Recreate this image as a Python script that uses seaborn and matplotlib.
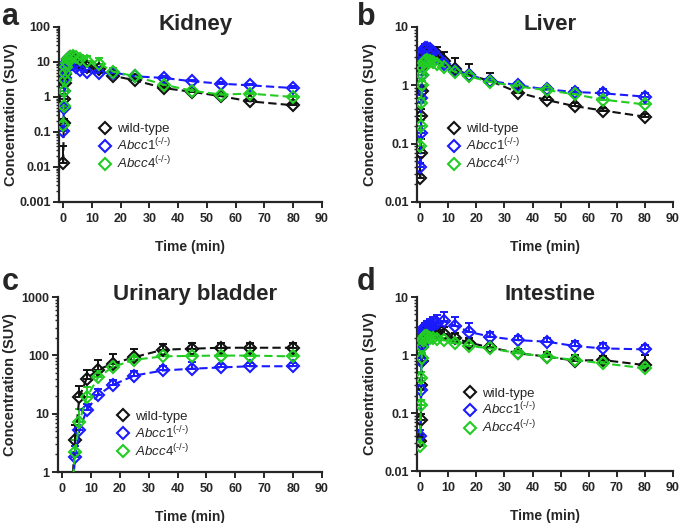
import numpy as np
import pandas as pd
import matplotlib
matplotlib.use('Agg')
import matplotlib.pyplot as plt
from matplotlib.lines import Line2D
from matplotlib.ticker import FixedLocator, FuncFormatter, LogLocator, NullFormatter
import seaborn as sns

# ── data (SUV, mean with upward SD) ─────────────────────────────────────────
GENOTYPES = ["wild-type", "Abcc1", "Abcc4"]
LABELS = ["wild-type", "$\\mathit{Abcc1}^{\\mathit{(\u2010/\u2010)}}$",
          "$\\mathit{Abcc4}^{\\mathit{(\u2010/\u2010)}}$"]
COLORS = ["#111111", "#1a1aff", "#22cc22"]

time_min = [0.08, 0.25, 0.42, 0.58, 0.75, 0.92, 1.25, 1.75, 2.5, 3.5, 4.5,
            6, 8.5, 12.5, 17.5, 25, 35, 45, 55, 65, 80]
time_bladder = [3.5, 4.5, 6, 8.5, 12.5, 17.5, 25, 35, 45, 55, 65, 80]

kidney_wt = [0.013, 0.18, 0.9, 2.5, 4.5, 6.5, 9.0, 12.0, 14.0, 13.0, 11.0,
             9.5, 7.2, 6.2, 4.0, 3.0, 1.8, 1.4, 1.05, 0.75, 0.58]
kidney_wt_sd = [0.027, 0.05, 0.3, 0.8, 1.0, 1.2, 1.5, 2.0, 2.0, 2.0, 2.0,
                1.5, 1.0, 0.8, 0.5, 0.4, 0.25, 0.2, 0.15, 0.1, 0.08]
kidney_a1 = [0.11, 0.5, 1.5, 3.5, 6.0, 8.0, 10.0, 12.0, 11.0, 9.0, 7.0,
             6.0, 5.2, 4.85, 5.0, 3.9, 3.5, 2.8, 2.4, 2.15, 1.8]
kidney_a1_sd = [0.02, 0.1, 0.3, 0.6, 1.0, 1.2, 1.5, 1.5, 1.2, 1.0, 0.8,
                0.7, 0.6, 0.5, 0.5, 0.4, 0.35, 0.3, 0.25, 0.2, 0.2]
kidney_a4 = [0.16, 0.55, 1.5, 3.0, 5.0, 7.0, 9.5, 12.0, 14.0, 14.5, 13.5,
             12.5, 11.0, 9.0, 5.3, 3.9, 2.25, 1.5, 1.17, 1.25, 1.0]
kidney_a4_sd = [0.03, 0.1, 0.3, 0.6, 1.0, 1.3, 1.8, 2.0, 2.5, 2.5, 3.0,
                3.0, 3.5, 4.0, 1.5, 0.5, 0.3, 0.2, 0.15, 0.15, 0.1]

liver_wt = [0.026, 0.07, 0.3, 0.8, 1.5, 2.2, 3.0, 3.5, 3.8, 3.7, 3.5,
            3.4, 2.6, 1.9, 1.49, 1.19, 0.75, 0.56, 0.44, 0.37, 0.29]
liver_wt_sd = [0.02, 0.05, 0.1, 0.2, 0.3, 0.4, 0.5, 0.6, 0.7, 0.7, 0.8,
               1.1, 1.1, 1.0, 0.8, 0.45, 0.1, 0.06, 0.05, 0.04, 0.03]
liver_a1 = [0.04, 0.15, 0.6, 1.5, 2.5, 3.3, 4.0, 4.3, 4.4, 4.2, 3.7,
            3.0, 2.3, 1.77, 1.5, 1.19, 1.0, 0.85, 0.77, 0.73, 0.64]
liver_a1_sd = [0.02, 0.05, 0.2, 0.4, 0.6, 0.7, 0.8, 0.8, 0.8, 0.6, 0.5,
               0.4, 0.3, 0.2, 0.15, 0.12, 0.12, 0.12, 0.12, 0.12, 0.1]
liver_a4 = [0.09, 0.2, 0.5, 1.0, 1.5, 2.0, 2.4, 2.6, 2.7, 2.6, 2.5,
            2.3, 2.1, 1.7, 1.42, 1.14, 0.95, 0.83, 0.70, 0.57, 0.47]
liver_a4_sd = [0.03, 0.05, 0.1, 0.2, 0.3, 0.3, 0.3, 0.3, 0.3, 0.3, 0.25,
               0.2, 0.2, 0.15, 0.12, 0.1, 0.08, 0.08, 0.08, 0.07, 0.06]

bladder_wt = [0.6, 3.6, 19, 40, 57, 72, 93, 125, 130, 135, 135, 135]
bladder_wt_sd = [0.3, 2.7, 11, 17, 27, 35, 37, 33, 33, 30, 30, 28]
bladder_a1 = [0.4, 1.8, 5.2, 11.4, 21, 31, 45, 55, 59, 62, 65, 65]
bladder_a1_sd = [0.2, 1.0, 2.0, 3.0, 5.0, 7.0, 8.0, 10, 18, 10, 8, 8]
bladder_a4 = [0.5, 2.2, 7.2, 19, 42, 63, 84, 96, 98, 99, 99, 96]
bladder_a4_sd = [0.3, 1.3, 4.8, 10, 12, 12, 10, 8, 8, 8, 8, 8]

intestine_wt = [0.033, 0.075, 0.3, 0.8, 1.4, 1.9, 2.3, 2.6, 2.8, 2.8, 2.7,
                2.5, 2.3, 1.94, 1.63, 1.35, 1.07, 0.94, 0.8, 0.82, 0.67]
intestine_wt_sd = [0.01, 0.02, 0.1, 0.2, 0.3, 0.4, 0.5, 0.6, 0.7, 0.7, 0.8,
                   0.6, 0.8, 0.5, 0.3, 0.2, 0.2, 0.2, 0.2, 0.14, 0.33]
intestine_a1 = [0.04, 0.25, 0.8, 1.5, 2.2, 2.6, 2.8, 3.0, 3.1, 3.2, 3.3,
                3.5, 3.8, 3.2, 2.5, 2.07, 1.8, 1.7, 1.43, 1.3, 1.25]
intestine_a1_sd = [0.01, 0.05, 0.2, 0.3, 0.4, 0.5, 0.5, 0.6, 0.7, 0.9, 1.2,
                   1.4, 1.8, 1.3, 1.0, 0.45, 0.3, 0.25, 0.34, 0.3, 0.25]
intestine_a4 = [0.027, 0.14, 0.4, 0.9, 1.4, 1.8, 2.0, 2.1, 2.1, 2.0, 1.94,
                1.87, 1.8, 1.6, 1.43, 1.3, 1.07, 0.94, 0.82, 0.72, 0.59]
intestine_a4_sd = [0.01, 0.03, 0.1, 0.2, 0.25, 0.3, 0.3, 0.3, 0.3, 0.3, 0.25,
                   0.2, 0.2, 0.2, 0.15, 0.1, 0.08, 0.08, 0.07, 0.06, 0.05]

PANELS = [
    ("a", "Kidney", time_min, [kidney_wt, kidney_a1, kidney_a4],
     [kidney_wt_sd, kidney_a1_sd, kidney_a4_sd], (0.001, 100), [0.001, 0.01, 0.1, 1, 10, 100]),
    ("b", "Liver", time_min, [liver_wt, liver_a1, liver_a4],
     [liver_wt_sd, liver_a1_sd, liver_a4_sd], (0.01, 10), [0.01, 0.1, 1, 10]),
    ("c", "Urinary bladder", time_bladder, [bladder_wt, bladder_a1, bladder_a4],
     [bladder_wt_sd, bladder_a1_sd, bladder_a4_sd], (1, 1000), [1, 10, 100, 1000]),
    ("d", "Intestine", time_min, [intestine_wt, intestine_a1, intestine_a4],
     [intestine_wt_sd, intestine_a1_sd, intestine_a4_sd], (0.01, 10), [0.01, 0.1, 1, 10]),
]

# layout in figure fractions (left, bottom, width, height)
AX_POS = [[0.0861, 0.6138, 0.3839, 0.3346],
          [0.6088, 0.6138, 0.3737, 0.3346],
          [0.0847, 0.0975, 0.3854, 0.3346],
          [0.6088, 0.0994, 0.3737, 0.3327]]
XMIN = [-1.4, -1.1, -1.4, -1.1]
LETTER_XY = [(0.002, 0.952), (0.521, 0.952), (0.002, 0.4455), (0.521, 0.4455)]
LEGEND_ANCHOR = [(0.15, 0.45), (0.12, 0.45), (0.22, 0.35), (0.18, 0.48)]

sns.set_style("ticks")
plt.rcParams['font.family'] = ['Liberation Sans', 'DejaVu Sans']
plt.rcParams['font.weight'] = 'bold'
plt.rcParams['axes.labelweight'] = 'bold'
plt.rcParams['mathtext.fontset'] = 'custom'
plt.rcParams['mathtext.it'] = 'Liberation Sans:style=italic:weight=normal'
plt.rcParams['mathtext.rm'] = 'Liberation Sans:weight=normal'

fig = plt.figure(figsize=(6.85, 5.23), dpi=100)

for i, (letter, title, t, series, sds, ylim, yticks) in enumerate(PANELS):
    ax = fig.add_axes(AX_POS[i])
    for g, y, sd, c in zip(GENOTYPES, series, sds, COLORS):
        df = pd.DataFrame({"time": t, "suv": y})
        ax.errorbar(t, y, yerr=[np.zeros(len(sd)), sd], fmt='none',
                    ecolor=c, elinewidth=1.4, capsize=3, capthick=1.4, zorder=2)
        sns.lineplot(data=df, x="time", y="suv", ax=ax, color=c, estimator=None,
                     linestyle=(0, (4, 2)), linewidth=1.5, marker='D', markersize=5.8,
                     markerfacecolor='none', markeredgecolor=c, markeredgewidth=1.5,
                     zorder=3)

    ax.set_yscale('log')
    ax.set_ylim(*ylim)
    ax.set_xlim(XMIN[i], 90)
    ax.xaxis.set_major_locator(FixedLocator(np.arange(0, 91, 10)))
    ax.yaxis.set_major_locator(FixedLocator(yticks))
    ax.yaxis.set_major_formatter(FuncFormatter(lambda v, p: f"{v:g}"))
    ax.yaxis.set_minor_locator(LogLocator(base=10, subs=np.arange(2, 10), numticks=20))
    ax.yaxis.set_minor_formatter(NullFormatter())
    ax.tick_params(axis='both', which='major', labelsize=9, width=1.4, length=4, pad=2)
    ax.tick_params(axis='x', which='major', pad=4)
    ax.tick_params(axis='y', which='minor', width=1.0, length=2)
    for lab in ax.get_xticklabels() + ax.get_yticklabels():
        lab.set_fontweight('bold')
    for s in ['left', 'bottom']:
        ax.spines[s].set_linewidth(1.6)
    sns.despine(ax=ax)

    ax.set_xlabel("Time (min)", fontsize=10, fontweight='bold', labelpad=11)
    ax.set_ylabel("Concentration (SUV)", fontsize=10.5, fontweight='bold')
    ax.yaxis.set_label_coords(-0.155, 0.5)
    ax.text(0.52, 0.983, title, transform=ax.transAxes, ha='center', va='baseline',
            fontsize=16, fontweight='bold')
    fig.text(LETTER_XY[i][0], LETTER_XY[i][1], letter, fontsize=22, fontweight='bold',
             ha='left', va='baseline')

    handles = [Line2D([], [], linestyle='none', marker='D', markersize=5.8,
                      markerfacecolor='none', markeredgecolor=c, markeredgewidth=1.5)
               for c in COLORS]
    ax.legend(handles, LABELS, loc='upper left', bbox_to_anchor=LEGEND_ANCHOR[i],
              frameon=False, handlelength=1.0, handletextpad=0.4,
              labelspacing=0.1, borderpad=0, borderaxespad=0,
              prop={'size': 9.5, 'weight': 'normal'})

fig.savefig("out.png", dpi=100)
